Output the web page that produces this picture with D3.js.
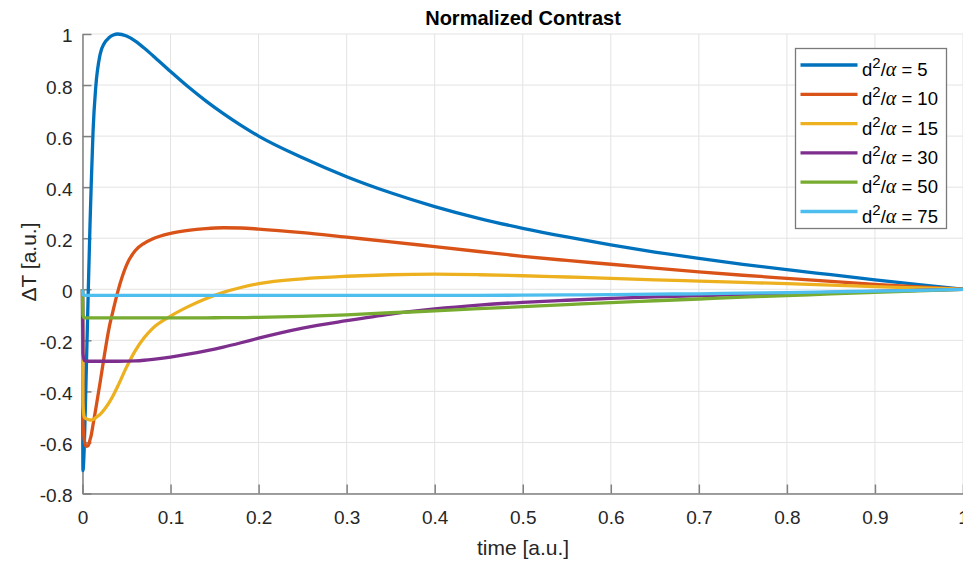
<!DOCTYPE html>
<html>
<head>
<meta charset="utf-8">
<script src="https://cdn.jsdelivr.net/npm/d3@7"></script>
<style>
  body { margin: 0; background: #fff; }
  svg { display: block; }
  text { font-family: "Liberation Sans", Arial, Helvetica, sans-serif; }
</style>
</head>
<body>
<svg id="chart" width="963" height="563"></svg>
<script>
// Sample times (normalized)
const time = [0, 0.0005, 0.002, 0.004, 0.0066, 0.0085, 0.01, 0.012, 0.015, 0.02,
  0.025, 0.03, 0.035, 0.04, 0.05, 0.06, 0.07, 0.08, 0.1, 0.12,
  0.14, 0.16, 0.18, 0.2, 0.25, 0.3, 0.35, 0.4, 0.45, 0.5,
  0.55, 0.6, 0.65, 0.7, 0.75, 0.8, 0.85, 0.9, 0.95, 1.0];

// Normalized contrast for each d^2/alpha
const contrast5 = [0, -0.71, -0.62, -0.36, 0.0, 0.25, 0.42, 0.62, 0.79, 0.92,
  0.965, 0.985, 0.996, 1.0, 0.992, 0.972, 0.945, 0.915, 0.853, 0.793,
  0.738, 0.688, 0.642, 0.6, 0.515, 0.441, 0.378, 0.324, 0.278, 0.239,
  0.205, 0.174, 0.146, 0.121, 0.098, 0.077, 0.057, 0.037, 0.018, 0];
const contrast10 = [0, -0.52, -0.59, -0.615, -0.612, -0.59, -0.57, -0.53, -0.47, -0.365,
  -0.255, -0.155, -0.08, -0.01, 0.095, 0.152, 0.18, 0.198, 0.219, 0.231,
  0.238, 0.241, 0.24, 0.236, 0.222, 0.204, 0.186, 0.167, 0.148, 0.129,
  0.113, 0.098, 0.083, 0.068, 0.055, 0.043, 0.031, 0.019, 0.009, 0];
const contrast15 = [0, -0.45, -0.5, -0.507, -0.51, -0.512, -0.512, -0.51, -0.503, -0.49,
  -0.47, -0.445, -0.415, -0.38, -0.305, -0.24, -0.19, -0.152, -0.105, -0.068,
  -0.037, -0.012, 0.007, 0.022, 0.041, 0.051, 0.057, 0.059, 0.057, 0.053,
  0.048, 0.043, 0.037, 0.032, 0.027, 0.022, 0.016, 0.01, 0.005, 0];
const contrast30 = [0, -0.25, -0.278, -0.281, -0.282, -0.282, -0.282, -0.282, -0.282, -0.282,
  -0.282, -0.282, -0.282, -0.282, -0.2815, -0.2805, -0.278, -0.2745, -0.2655, -0.2545,
  -0.2415, -0.2265, -0.2095, -0.1915, -0.152, -0.123, -0.097, -0.077, -0.062, -0.051,
  -0.043, -0.036, -0.03, -0.025, -0.02, -0.016, -0.012, -0.008, -0.004, 0];
const contrast50 = [0, -0.1, -0.112, -0.112, -0.112, -0.112, -0.112, -0.112, -0.112, -0.112,
  -0.112, -0.112, -0.112, -0.112, -0.112, -0.112, -0.112, -0.112, -0.112, -0.112,
  -0.112, -0.111, -0.111, -0.11, -0.106, -0.1, -0.092, -0.085, -0.076, -0.068,
  -0.06, -0.052, -0.045, -0.038, -0.031, -0.025, -0.018, -0.012, -0.006, 0];
const contrast75 = [0, -0.02, -0.023, -0.024, -0.024, -0.024, -0.024, -0.024, -0.024, -0.024,
  -0.024, -0.024, -0.024, -0.024, -0.024, -0.024, -0.024, -0.024, -0.024, -0.024,
  -0.024, -0.024, -0.024, -0.024, -0.024, -0.024, -0.024, -0.024, -0.024, -0.023,
  -0.022, -0.021, -0.019, -0.018, -0.015, -0.013, -0.01, -0.007, -0.004, 0];

const ratioLabels = ["5", "10", "15", "30", "50", "75"];
const seriesValues = [contrast5, contrast10, contrast15, contrast30, contrast50, contrast75];
const seriesColors = ["#0072BD", "#D95319", "#EDB120", "#7E2F8E", "#77AC30", "#4DBEEE"];

const xTicks = [0, 0.1, 0.2, 0.3, 0.4, 0.5, 0.6, 0.7, 0.8, 0.9, 1];
const xTickLabels = ["0", "0.1", "0.2", "0.3", "0.4", "0.5", "0.6", "0.7", "0.8", "0.9", "1"];
const yTicks = [-0.8, -0.6, -0.4, -0.2, 0, 0.2, 0.4, 0.6, 0.8, 1];
const yTickLabels = ["-0.8", "-0.6", "-0.4", "-0.2", "0", "0.2", "0.4", "0.6", "0.8", "1"];

const titleText = "Normalized Contrast";
const xLabelText = "time [a.u.]";
const yLabelText = "\u0394T [a.u.]";

// Layout
const plot = { left: 82.5, right: 963, top: 34, bottom: 493.5 };
const axisColor = "#808080";
const textColor = "#262626";
const gridColor = "#e3e3e3";

const svg = d3.select("#chart");

const x = d3.scaleLinear().domain([0, 1]).range([plot.left, plot.right]);
const y = d3.scaleLinear().domain([-0.8, 1]).range([plot.bottom, plot.top]);

// Grid
const grid = svg.append("g").attr("class", "grid");
grid.selectAll("line.v").data(xTicks).join("line")
  .attr("class", "v")
  .attr("x1", d => x(d)).attr("x2", d => x(d))
  .attr("y1", plot.top).attr("y2", plot.bottom)
  .attr("stroke", gridColor).attr("stroke-width", 1);
grid.selectAll("line.h").data(yTicks).join("line")
  .attr("class", "h")
  .attr("x1", plot.left).attr("x2", plot.right)
  .attr("y1", d => y(d)).attr("y2", d => y(d))
  .attr("stroke", gridColor).attr("stroke-width", 1);

// Axes (ticks point inward)
const xAxis = d3.axisBottom(x).tickValues(xTicks)
  .tickFormat((d, i) => xTickLabels[i])
  .tickSizeInner(-9).tickSizeOuter(0).tickPadding(17);
const yAxis = d3.axisLeft(y).tickValues(yTicks)
  .tickFormat((d, i) => yTickLabels[i])
  .tickSizeInner(-9).tickSizeOuter(0).tickPadding(10);

const gx = svg.append("g").attr("transform", `translate(0,${plot.bottom})`).call(xAxis);
const gy = svg.append("g").attr("transform", `translate(${plot.left},0)`).call(yAxis);

[gx, gy].forEach(g => {
  g.select(".domain").attr("stroke", axisColor).attr("stroke-width", 1.5);
  g.selectAll(".tick line").attr("stroke", axisColor).attr("stroke-width", 1.5);
  g.selectAll(".tick text")
    .attr("fill", textColor)
    .style("font-size", "19px")
    .style("font-family", "'Liberation Sans', Arial, sans-serif");
});
gy.selectAll(".tick text").attr("dy", "0.42em");

// Curves
const line = d3.line()
  .x((d, i) => x(time[i]))
  .y(d => y(d))
  .curve(d3.curveMonotoneX);

svg.append("g").attr("class", "curves")
  .selectAll("path").data(seriesValues).join("path")
  .attr("d", d => line(d))
  .attr("fill", "none")
  .attr("stroke", (d, i) => seriesColors[i])
  .attr("stroke-width", 3.3)
  .attr("stroke-linejoin", "round")
  .attr("stroke-linecap", "butt");

// Title and axis labels
svg.append("text")
  .attr("x", 523).attr("y", 25)
  .attr("text-anchor", "middle")
  .attr("fill", "#000")
  .style("font-size", "20px").style("font-weight", "bold")
  .text(titleText);

svg.append("text")
  .attr("x", 523).attr("y", 555)
  .attr("text-anchor", "middle")
  .attr("fill", textColor)
  .style("font-size", "21px")
  .text(xLabelText);

svg.append("text")
  .attr("transform", "translate(36,262) rotate(-90)")
  .attr("text-anchor", "middle")
  .attr("fill", textColor)
  .style("font-size", "21px")
  .text(yLabelText);

// Legend
const legend = svg.append("g").attr("class", "legend");
legend.append("rect")
  .attr("x", 795.5).attr("y", 48.5)
  .attr("width", 151).attr("height", 180)
  .attr("fill", "#fff")
  .attr("stroke", "#7a7a7a").attr("stroke-width", 1.3);

const rowY = i => 65 + i * 29.3;
const rows = legend.selectAll("g.item").data(ratioLabels).join("g").attr("class", "item");
rows.append("line")
  .attr("x1", 800.5).attr("x2", 857.5)
  .attr("y1", (d, i) => rowY(i)).attr("y2", (d, i) => rowY(i))
  .attr("stroke", (d, i) => seriesColors[i])
  .attr("stroke-width", 3.3);
const labels = rows.append("text")
  .attr("x", 862)
  .attr("y", (d, i) => rowY(i) + 11)
  .attr("fill", "#000")
  .style("font-size", "18.5px");
labels.append("tspan").text("d");
labels.append("tspan").attr("dy", -8).style("font-size", "15px").text("2");
labels.append("tspan").attr("dy", 8).text("/");
labels.append("tspan")
  .style("font-family", "'Liberation Serif', 'DejaVu Serif', serif")
  .style("font-style", "italic")
  .style("font-size", "20px")
  .text("\u03B1");
labels.append("tspan").text(d => " = " + d);
</script>
</body>
</html>
